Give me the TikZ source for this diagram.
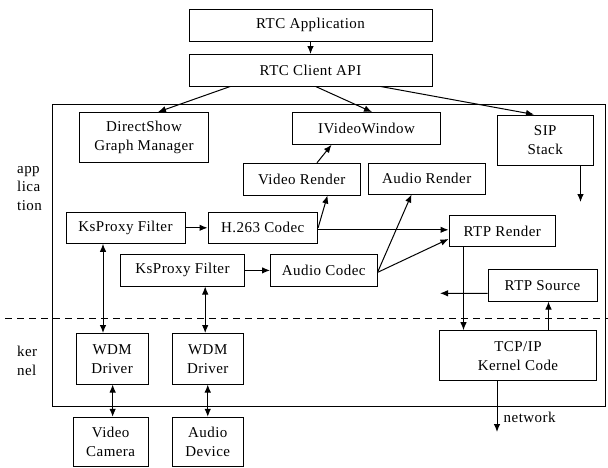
\documentclass[tikz,border=0pt]{standalone}
\usepackage{fontspec}
\setmainfont[LetterSpace=3]{Liberation Serif}
\usetikzlibrary{arrows.meta}
\begin{document}
\begin{tikzpicture}[x=1pt,y=-1pt,
  box/.style={draw,line width=1pt,rectangle,inner sep=0pt,align=center,font=\fontsize{15}{19}\selectfont},
  frame/.style={draw,line width=1pt,rectangle,inner sep=0pt},
  conn/.style={line width=1pt,-{Latex[length=8pt,width=6.5pt]}},
  biconn/.style={line width=1pt,{Latex[length=8pt,width=6.5pt]}-{Latex[length=8pt,width=6.5pt]}},
  lbl/.style={font=\fontsize{15}{18.5}\selectfont,align=left,inner sep=0pt}]
\useasboundingbox (0,0) rectangle (608,467);
% outer frame
\node[frame,minimum width=552.5pt,minimum height=301.7pt] (outer) at (328.75,255.15) {};
% boxes
\node[box,minimum width=243pt,minimum height=31.5pt] (app) at (310.5,25.25) {RTC Application};
\node[box,minimum width=243pt,minimum height=31.5pt] (api) at (310.5,70.25) {RTC Client API};
\node[box,minimum width=129pt,minimum height=50pt] (ds) at (144,137.5) {DirectShow\\Graph Manager};
\node[box,minimum width=148pt,minimum height=31.8pt] (ivw) at (366.5,128.4) {IVideoWindow};
\node[box,minimum width=95.5pt,minimum height=50.5pt] (sip) at (545.25,140.25) {SIP\\Stack};
\node[box,minimum width=117.5pt,minimum height=31.7pt] (vr) at (301.75,179.15) {Video Render};
\node[box,minimum width=117.5pt,minimum height=30.7pt] (ar) at (426.75,178.65) {Audio Render};
\node[box,minimum width=119pt,minimum height=31pt] (ks1) at (125.5,227.8) {KsProxy Filter};
\node[box,minimum width=109.6pt,minimum height=31pt] (h263) at (262.8,227.8) {H.263 Codec};
\node[box,minimum width=106.5pt,minimum height=31.2pt] (rtpr) at (502.25,231.1) {RTP Render};
\node[box,minimum width=124pt,minimum height=31.2pt] (ks2) at (182.5,270.4) {KsProxy Filter};
\node[box,minimum width=106.5pt,minimum height=31.2pt] (ac) at (323.75,270.4) {Audio Codec};
\node[box,minimum width=109pt,minimum height=31.5pt] (rtps) at (542.5,285.25) {RTP Source};
\node[box,minimum width=72.3pt,minimum height=50.5pt] (wdm1) at (112.15,358.75) {WDM\\Driver};
\node[box,minimum width=71.5pt,minimum height=50.5pt] (wdm2) at (207.75,358.75) {WDM\\Driver};
\node[box,minimum width=157pt,minimum height=49.8pt] (tcp) at (518,355.6) {TCP/IP\\Kernel Code};
\node[box,minimum width=75.3pt,minimum height=49.2pt] (cam) at (110.65,441.9) {Video\\Camera};
\node[box,minimum width=71.5pt,minimum height=49.2pt] (dev) at (207.75,441.9) {Audio\\Device};
% side labels
\node[lbl,anchor=west] (appl) at (17,188.5) {app\\lica\\tion};
\node[lbl,anchor=west] (kern) at (17,361) {ker\\nel};
\node[lbl,anchor=west] (netl) at (503.5,417) {network};
% free ends
\coordinate (sipend) at (580.5,202);
\coordinate (rtpsend) at (440,293.3);
\coordinate (netend) at (497,432);
\coordinate (dashL) at (5,318.5);
\coordinate (dashR) at (608,318.5);
% dashed separator
\draw[line width=1.2pt,dash pattern=on 7pt off 5pt] (dashL) -- (dashR);
% connectors
\draw[conn] (app.south) -- (api.north);
\draw[conn] ([xshift=41.7pt]api.south west) -- ([xshift=14pt]ds.north);
\draw[conn] ([xshift=5.2pt]api.south) -- ([xshift=5.5pt]ivw.north);
\draw[conn] ([xshift=70.2pt]api.south) -- ([xshift=-11.25pt]sip.north);
\draw[conn] ([xshift=35.25pt]sip.south) -- (sipend);
\draw[conn] ([xshift=15.25pt]vr.north) -- ([xshift=-35pt]ivw.south);
\draw[conn] (h263.east) -- ([xshift=25.75pt]vr.south);
\draw[conn] (ks1.east) -- (h263.west);
\draw[conn] ([yshift=-2pt]h263.east) -- ([yshift=-2pt]h263.east -| rtpr.west);
\draw[conn] (ks2.east) -- (ac.west);
\draw[conn] ([yshift=-2pt]ac.east) -- ([xshift=-15.25pt]ar.south);
\draw[conn] ([yshift=-2pt]ac.east) -- ([yshift=-7.9pt]rtpr.west);
\draw[conn] ([xshift=-38.75pt]rtpr.south) -- ([xshift=-54.5pt]tcp.north);
\draw[conn] ([xshift=30.5pt]tcp.north) -- ([xshift=6pt]rtps.south);
\draw[conn] ([yshift=-8pt]rtps.west) -- (rtpsend);
\draw[conn] ([xshift=-21pt]tcp.south) -- (netend);
\draw[biconn] ([xshift=-22.5pt]ks1.south) -- ([xshift=-9.15pt]wdm1.north);
\draw[biconn] ([xshift=22.7pt]ks2.south) -- ([xshift=-2.55pt]wdm2.north);
\draw[biconn] ([xshift=0.5pt]wdm1.south) -- ([xshift=2pt]cam.north);
\draw[biconn] (wdm2.south) -- (dev.north);
\end{tikzpicture}
\end{document}
